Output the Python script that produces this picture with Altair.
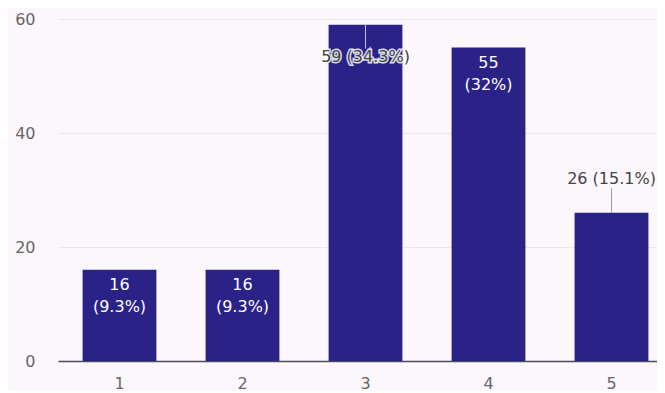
import altair as alt
import pandas as pd

categories = ["1", "2", "3", "4", "5"]
counts = [16, 16, 59, 55, 26]
percents = ["9.3%", "9.3%", "34.3%", "32%", "15.1%"]
y_ticks = [0, 20, 40, 60]

df = pd.DataFrame({"cat": categories, "count": counts, "pct": percents})
df["line1"] = df["count"].astype(str)
df["line2"] = "(" + df["pct"] + ")"
df["single"] = df["line1"] + " " + df["line2"]

BAR = "#2b2288"
FONT = "DejaVu Sans"
LABEL = "#666666"

x = alt.X(
    "cat:N",
    sort=categories,
    scale=alt.Scale(range=[0, 615], paddingInner=0.4, paddingOuter=0.2),
    axis=alt.Axis(
        title=None, labelAngle=0, ticks=False, grid=False,
        domainColor="#4a4a5a", domainWidth=1.5,
        labelColor=LABEL, labelFont=FONT, labelFontSize=16, labelPadding=14,
    ),
)
y = alt.Y(
    "count:Q",
    scale=alt.Scale(domain=[0, 60], nice=False),
    axis=alt.Axis(
        title=None, values=y_ticks, ticks=False, domain=False,
        labelColor=LABEL, labelFont=FONT, labelFontSize=16, labelPadding=23,
        gridColor="#efe4ef", gridWidth=1,
    ),
)

base = alt.Chart(df).encode(x=x)
bars = base.mark_bar(color=BAR).encode(y=y)

inside = base.transform_filter("indexof(['1','2','4'], datum.cat) >= 0")
in1 = inside.mark_text(dy=15, color="white", font=FONT, fontSize=16, baseline="middle").encode(
    y="count:Q", text="line1:N")
in2 = inside.mark_text(dy=37, color="white", font=FONT, fontSize=16, baseline="middle").encode(
    y="count:Q", text="line2:N")

top = base.transform_filter("datum.cat == '3'")
top_rule = top.transform_calculate(y2="datum.count - 4.2").mark_rule(
    color="#c9c6dc", strokeWidth=1).encode(y="count:Q", y2="y2:Q")
top_halo = top.mark_text(dy=32, color="#444444", stroke="white", strokeWidth=3,
                         strokeOpacity=0.85, font=FONT, fontSize=16,
                         baseline="middle").encode(y="count:Q", text="single:N")
top_txt = top.mark_text(dy=32, color="#444444", font=FONT, fontSize=16,
                        baseline="middle").encode(y="count:Q", text="single:N")

out = base.transform_filter("datum.cat == '5'")
out_rule = out.transform_calculate(y2="datum.count + 4.3").mark_rule(
    color="#9a9a9a", strokeWidth=1).encode(y="count:Q", y2="y2:Q")
out_txt = out.mark_text(dy=-34, color="#444444", font=FONT, fontSize=16,
                        baseline="middle").encode(y="count:Q", text="single:N")

chart = alt.layer(
    bars, in1, in2, top_rule, top_halo, top_txt, out_rule, out_txt
).properties(
    width=599,
    height=342,
    autosize=alt.AutoSizeParams(type="none"),
    padding={"left": 50, "top": 11, "right": 0, "bottom": 30},
    background="#fcf7fc",
).configure_view(stroke=None)

chart.save("out.html", embed_options={"renderer": "svg", "actions": False})
